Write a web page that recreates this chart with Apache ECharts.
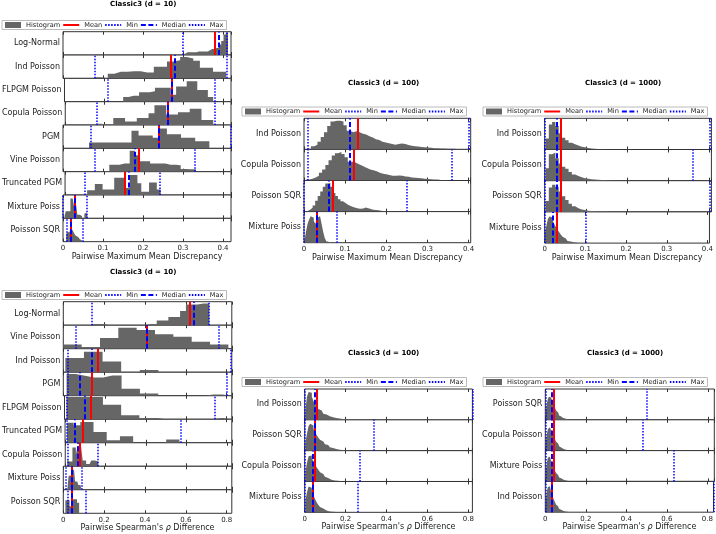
<!DOCTYPE html>
<html>
<head>
<meta charset="utf-8">
<title>Classic3 histograms</title>
<script src="https://cdn.jsdelivr.net/npm/echarts@6.0.0/dist/echarts.min.js"></script>
<style>
  html, body { margin: 0; padding: 0; background: #fff; }
  #chart { width: 716px; height: 534px; }
</style>
</head>
<body>
<div id="chart"></div>
<script>
// ---------- data ----------
// Pairwise MMD, d = 10
var mmd10Labels = ['Log-Normal', 'Ind Poisson', 'FLPGM Poisson', 'Copula Poisson', 'PGM', 'Vine Poisson', 'Truncated PGM', 'Mixture Poiss', 'Poisson SQR'];
var mmd10Min    = [0.300, 0.079, 0.108, 0.077, 0.065, 0.078, 0.046, 0.004, 0.008];
var mmd10Max    = [0.413, 0.408, 0.375, 0.375, 0.418, 0.333, 0.242, 0.063, 0.048];
var mmd10Mean   = [0.376, 0.272, 0.267, 0.256, 0.237, 0.193, 0.154, 0.032, 0.023];
var mmd10Median = [0.390, 0.281, 0.268, 0.259, 0.240, 0.183, 0.162, 0.027, 0.022];
var mmd10BinLo  = [0.300, 0.079, 0.108, 0.077, 0.065, 0.0775, 0.046, 0.004, 0.008];
var mmd10BinW   = [0.005625, 0.01645, 0.01335, 0.0149, 0.0177, 0.01275, 0.0098, 0.0029, 0.002];
var mmd10Counts = [
  [0.06,0.12,0.12,0.12,0.12,0.12,0.15,0.15,0.15,0.15,0.15,0.2,0.26,0.26,0.3,0.3,0.45,0.6,0.88,0.97],
  [0.05,0,0.2,0.28,0.28,0.3,0.3,0.25,0.25,0.5,0.5,0.72,0.78,0.92,0.85,0.75,0.45,0.45,0.28,0.28],
  [0,0,0,0.2,0.25,0.25,0.4,0.4,0.45,0.6,0.6,0.6,0.3,0.65,0.65,0.88,0.88,0.5,0.5,0.2],
  [0.05,0,0,0.3,0.3,0.15,0.15,0.3,0.3,0.5,0.85,0.85,0.45,0.45,0.55,0.55,0.7,0.7,0.22,0.22],
  [0.25,0.25,0.25,0.25,0.25,0.25,0.75,0.55,0.55,0.45,0.85,0.6,0.6,0.45,0.45,0.3,0.3,0,0,0.04],
  [0.02,0.02,0.02,0.3,0.3,0.35,0.35,0.9,0.7,0.45,0.45,0.35,0.35,0.35,0.3,0.3,0.28,0.12,0.1,0.1],
  [0,0.2,0.2,0.47,0.47,0.24,0.24,0.24,0.74,0.74,0.74,0.3,0.86,0.86,0.5,0.14,0.14,0.54,0.54,0.24],
  [0.1,0.3,0.3,0.3,0.3,0.85,0.85,0.85,0.55,0.55,0.55,0.15,0.15,0.15,0.1,0,0,0.2,0.25,0.25],
  [0.3,0.4,0.4,0.4,0.45,0.5,0.5,0.5,0.5,0.5,0.35,0.3,0.25,0.2,0.2,0.2,0.15,0.1,0.05,0.05]
];

// Pairwise MMD, d = 100
var mmd100Labels = ['Ind Poisson', 'Copula Poisson', 'Poisson SQR', 'Mixture Poiss'];
var mmd100Min    = [0.009, 0.005, 0.0025, 0.001];
var mmd100Max    = [0.404, 0.359, 0.248, 0.077];
var mmd100Mean   = [0.125, 0.124, 0.069, 0.032];
var mmd100Median = [0.109, 0.109, 0.063, 0.031];
var mmd100BinLo  = [0.009, 0.005, 0.0025, 0.001];
var mmd100BinW   = [0.0079, 0.0078, 0.00615, 0.0038];
var mmd100Counts = [
  [0.02,0.1,0.15,0.25,0.4,0.55,0.75,0.9,0.92,0.92,0.9,0.78,0.6,0.55,0.58,0.55,0.5,0.48,0.42,0.38,0.33,0.3,0.25,0.22,0.2,0.17,0.15,0.17,0.19,0.17,0.14,0.12,0.1,0.09,0.08,0.07,0.06,0.05,0.04,0.04,0.03,0.03,0.02,0.02,0.02,0.01,0.01,0.01,0.01,0.01],
  [0.03,0.06,0.1,0.15,0.25,0.35,0.5,0.65,0.8,0.88,0.92,0.85,0.75,0.6,0.6,0.55,0.5,0.45,0.4,0.35,0.33,0.3,0.25,0.22,0.2,0.18,0.15,0.15,0.16,0.15,0.13,0.12,0.1,0.09,0.08,0.07,0.06,0.05,0.04,0.03,0.03,0.02,0.02,0.01,0.01],
  [0.02,0.06,0.12,0.2,0.35,0.5,0.65,0.8,0.9,0.92,0.8,0.6,0.5,0.4,0.33,0.28,0.22,0.18,0.15,0.12,0.1,0.09,0.1,0.13,0.11,0.08,0.06,0.05,0.04,0.03,0.02,0.02,0.01,0.01,0.01,0,0,0,0,0.01],
  [0.05,0.35,0.6,0.75,0.85,0.8,0.7,0.6,0.8,0.85,0.8,0.6,0.35,0.15,0.05,0.02,0.01,0,0,0.01]
];

// Pairwise MMD, d = 1000
var mmd1000Labels = ['Ind Poisson', 'Copula Poisson', 'Poisson SQR', 'Mixture Poiss'];
var mmd1000Min    = [0.0016, 0.0016, 0.0016, 0.0005];
var mmd1000Max    = [0.395, 0.361, 0.403, 0.104];
var mmd1000Mean   = [0.043, 0.043, 0.038, 0.025];
var mmd1000Median = [0.031, 0.031, 0.029, 0.021];
var mmd1000BinLo  = [0.002, 0.002, 0.002, 0.0];
var mmd1000BinW   = [0.008, 0.008, 0.008, 0.004];
var mmd1000Counts = [
  [0.35,0.8,0.88,0.75,0.52,0.38,0.3,0.22,0.17,0.13,0.09,0.07,0.05,0.035,0.025,0.02,0.015,0.012,0.01,0.01,0.008,0.008,0.006,0.006,0.005,0.005,0.004,0.004,0.003,0.003],
  [0.4,0.85,0.9,0.72,0.55,0.45,0.38,0.28,0.2,0.15,0.11,0.08,0.06,0.05,0.04,0.03,0.025,0.02,0.015,0.012,0.01,0.008,0.006,0.005,0.004,0.003],
  [0.35,0.78,0.87,0.8,0.65,0.5,0.38,0.26,0.18,0.12,0.08,0.06,0.04,0.03,0.02,0.015,0.012,0.01,0.008,0.006,0.005,0.004,0.003],
  [0.3,0.55,0.78,0.85,0.82,0.72,0.6,0.5,0.42,0.34,0.27,0.2,0.15,0.1,0.07,0.05,0.035,0.025,0.015,0.01,0.008,0.005]
];

// Pairwise Spearman's rho difference, d = 10
var sp10Labels = ['Log-Normal', 'Vine Poisson', 'Ind Poisson', 'PGM', 'FLPGM Poisson', 'Truncated PGM', 'Copula Poisson', 'Mixture Poiss', 'Poisson SQR'];
var sp10Min    = [0.142, 0.057, 0.016, 0.016, 0.010, 0.010, 0.010, 0.010, 0.016];
var sp10Max    = [0.715, 0.760, 0.823, 0.797, 0.738, 0.567, 0.163, 0.090, 0.109];
var sp10Mean   = [0.616, 0.410, 0.175, 0.139, 0.134, 0.0865, 0.073, 0.044, 0.041];
var sp10Median = [0.642, 0.413, 0.144, 0.078, 0.098, 0.049, 0.062, 0.0375, 0.0375];
var sp10BinLo  = [0.142, 0.0, 0.010, 0.016, 0.010, 0.010, 0.010, 0.010, 0.010];
var sp10BinW   = [0.02865, 0.0898, 0.0911, 0.0449, 0.0449, 0.0327, 0.0085, 0.0053, 0.0052];
var sp10Counts = [
  [0.05,0.05,0,0,0,0,0,0,0,0.05,0.05,0.2,0.2,0.35,0.35,0.6,0.88,0.88,0.92,0.92],
  [0.18,0.07,0.46,0.89,0.8,0.62,0.51,0.3,0.18],
  [0.6,0.87,0.46,0,0.1,0,0,0,0.03],
  [0.93,0.85,0.78,0.78,0.86,0.86,0.3,0.3,0.1,0.1,0,0,0,0,0,0.05,0.05,0],
  [0.95,0.95,0.95,0.95,0.62,0.62,0.17,0.17,0.05,0.05,0,0,0,0,0,0,0.05,0.05],
  [0.85,0.75,0.88,0.88,0.46,0.46,0.11,0.11,0.28,0.28,0,0,0,0,0,0.14,0.14],
  [0.3,0.2,0.2,0.8,0.8,0.5,0.85,0.85,0.85,0.25,0.25,0.1,0.1,0.1,0.25,0.25,0.25,0.2],
  [0.05,0.05,0.05,0.6,0.6,0.6,0.85,0.85,0.85,0.35,0.35,0.35,0.2,0.2,0.2],
  [0.55,0.55,0.55,0.55,0.3,0.3,0.3,0.6,0.6,0.6,0.6,0.45,0.45,0,0,0,0,0]
];

// Pairwise Spearman's rho difference, d = 100
var sp100Labels = ['Ind Poisson', 'Poisson SQR', 'Copula Poisson', 'Mixture Poiss'];
var sp100Min    = [0.003, 0.003, 0.003, 0.003];
var sp100Max    = [0.816, 0.336, 0.267, 0.257];
var sp100Mean   = [0.062, 0.054, 0.049, 0.039];
var sp100Median = [0.047, 0.047, 0.042, 0.036];
var sp100BinLo  = [0.003, 0.003, 0.003, 0.003];
var sp100BinW   = [0.008, 0.008, 0.008, 0.008];
var sp100Counts = [
  [0.3,0.75,0.9,0.88,0.75,0.6,0.5,0.42,0.35,0.3,0.25,0.2,0.17,0.14,0.12,0.1,0.08,0.07,0.06,0.05,0.04,0.035,0.03,0.025,0.02,0.02,0.015,0.015,0.01,0.01,0.008,0.008,0.006,0.005,0.005],
  [0.25,0.55,0.8,0.87,0.82,0.7,0.6,0.5,0.42,0.35,0.3,0.25,0.21,0.18,0.14,0.11,0.09,0.07,0.05,0.04,0.03,0.025,0.02,0.015,0.01,0.01,0.008,0.005],
  [0.3,0.6,0.82,0.84,0.75,0.65,0.55,0.45,0.38,0.3,0.24,0.19,0.15,0.11,0.08,0.06,0.045,0.035,0.025,0.02,0.015,0.01,0.01,0.005],
  [0.35,0.65,0.84,0.8,0.68,0.55,0.42,0.32,0.24,0.17,0.12,0.08,0.06,0.04,0.03,0.02,0.015,0.01,0.008,0.005]
];

// Pairwise Spearman's rho difference, d = 1000
var sp1000Labels = ['Poisson SQR', 'Copula Poisson', 'Mixture Poiss', 'Ind Poisson'];
var sp1000Min    = [0.003, 0.003, 0.003, 0.003];
var sp1000Max    = [0.500, 0.480, 0.633, 0.828];
var sp1000Mean   = [0.039, 0.038, 0.036, 0.034];
var sp1000Median = [0.034, 0.034, 0.031, 0.028];
var sp1000BinLo  = [0.003, 0.003, 0.003, 0.003];
var sp1000BinW   = [0.005, 0.005, 0.005, 0.005];
var sp1000Counts = [
  [0.3,0.55,0.68,0.75,0.72,0.68,0.62,0.55,0.45,0.38,0.3,0.24,0.18,0.14,0.11,0.08,0.06,0.05,0.04,0.03,0.02,0.015,0.01,0.01],
  [0.3,0.55,0.7,0.76,0.73,0.66,0.6,0.52,0.44,0.36,0.29,0.23,0.18,0.14,0.1,0.08,0.06,0.045,0.035,0.025,0.02,0.015,0.01,0.01],
  [0.35,0.62,0.78,0.8,0.75,0.68,0.6,0.5,0.42,0.34,0.27,0.21,0.17,0.13,0.1,0.08,0.06,0.045,0.035,0.025,0.02,0.015,0.01,0.01],
  [0.4,0.7,0.82,0.84,0.78,0.68,0.58,0.48,0.4,0.32,0.25,0.19,0.15,0.11,0.08,0.06,0.045,0.035,0.025,0.02,0.015,0.01,0.01,0.005]
];

// ---------- layout ----------
var FONT = 'DejaVu Sans';
var MMD_NAME = 'Pairwise Maximum Mean Discrepancy';
var SP_NAME = "Pairwise Spearman's {i|ρ} Difference";

var panels = [
  { title: 'Classic3 (d = 10)', titleLeft: 110, titleTop: 1, legendLeft: 2, legendTop: 20.5,
    left: 63, width: 168, top: 31.7, rowH: 23.33, xmax: 0.42, interval: 0.1, axisName: MMD_NAME, nameGap: 11,
    d: { labels: mmd10Labels, min: mmd10Min, max: mmd10Max, mean: mmd10Mean, median: mmd10Median, lo: mmd10BinLo, w: mmd10BinW, counts: mmd10Counts } },
  { title: 'Classic3 (d = 100)', titleLeft: 348, titleTop: 80, legendLeft: 242, legendTop: 107,
    left: 304, width: 166.7, top: 118.3, rowH: 31.1, xmax: 0.405, interval: 0.1, axisName: MMD_NAME, nameGap: 11,
    d: { labels: mmd100Labels, min: mmd100Min, max: mmd100Max, mean: mmd100Mean, median: mmd100Median, lo: mmd100BinLo, w: mmd100BinW, counts: mmd100Counts } },
  { title: 'Classic3 (d = 1000)', titleLeft: 585, titleTop: 80, legendLeft: 483, legendTop: 107,
    left: 544.7, width: 166.7, top: 118.3, rowH: 31.2, xmax: 0.405, interval: 0.1, axisName: MMD_NAME, nameGap: 11,
    d: { labels: mmd1000Labels, min: mmd1000Min, max: mmd1000Max, mean: mmd1000Mean, median: mmd1000Median, lo: mmd1000BinLo, w: mmd1000BinW, counts: mmd1000Counts } },
  { title: 'Classic3 (d = 10)', titleLeft: 110, titleTop: 269, legendLeft: 2, legendTop: 290.5,
    left: 63.3, width: 168.5, top: 301.7, rowH: 23.51, xmax: 0.825, interval: 0.2, axisName: SP_NAME, nameGap: 10,
    d: { labels: sp10Labels, min: sp10Min, max: sp10Max, mean: sp10Mean, median: sp10Median, lo: sp10BinLo, w: sp10BinW, counts: sp10Counts } },
  { title: 'Classic3 (d = 100)', titleLeft: 348, titleTop: 350, legendLeft: 242, legendTop: 377.5,
    left: 304.7, width: 167.7, top: 389, rowH: 30.83, xmax: 0.82, interval: 0.2, axisName: SP_NAME, nameGap: 11,
    d: { labels: sp100Labels, min: sp100Min, max: sp100Max, mean: sp100Mean, median: sp100Median, lo: sp100BinLo, w: sp100BinW, counts: sp100Counts } },
  { title: 'Classic3 (d = 1000)', titleLeft: 587, titleTop: 350, legendLeft: 483, legendTop: 377.5,
    left: 545.3, width: 169, top: 389, rowH: 30.8, xmax: 0.83, interval: 0.2, axisName: SP_NAME, nameGap: 11,
    d: { labels: sp1000Labels, min: sp1000Min, max: sp1000Max, mean: sp1000Mean, median: sp1000Median, lo: sp1000BinLo, w: sp1000BinW, counts: sp1000Counts } }
];

var statStyle = {
  Mean:   { color: '#ff0000', width: 2,   type: 'solid' },
  Min:    { color: '#0000ff', width: 1.5, type: [1.5, 1.5] },
  Median: { color: '#0000ff', width: 2,   type: [5, 2.5] },
  Max:    { color: '#0000ff', width: 1.5, type: [1.5, 1.5] }
};
var HIST_COLOR = '#666666';

// step outline of a histogram: left edge of each bin, closed at the last edge
function stepData(lo, w, counts) {
  var pts = [];
  for (var i = 0; i < counts.length; i++) pts.push([lo + i * w, counts[i]]);
  pts.push([lo + counts.length * w, 0]);
  return pts;
}

// line-only legend entry (hide the marker ECharts puts on line icons)
function lineItem(name) {
  return { name: name, itemStyle: { opacity: 0 } };
}

var grids = [], xAxes = [], yAxes = [], series = [], titles = [], legends = [];

panels.forEach(function (p) {
  titles.push({ text: p.title, left: p.titleLeft, top: p.titleTop, padding: 0,
    textStyle: { fontSize: 7, fontWeight: 'bold', color: '#000', fontFamily: FONT } });

  legends.push({
    left: p.legendLeft, top: p.legendTop, orient: 'horizontal', selectedMode: false,
    itemWidth: 16, itemHeight: 6, itemGap: 2, padding: [1, 3],
    borderColor: '#bbb', borderWidth: 1, backgroundColor: '#fff',
    textStyle: { fontSize: 6.6, color: '#222', fontFamily: FONT },
    data: [{ name: 'Histogram', icon: 'rect' }, lineItem('Mean'), lineItem('Min'), lineItem('Median'), lineItem('Max')]
  });

  var n = p.d.labels.length;
  for (var r = 0; r < n; r++) {
    var gi = grids.length;
    var last = r === n - 1;
    grids.push({ left: p.left, top: p.top + r * p.rowH, width: p.width, height: p.rowH,
      show: true, borderColor: '#333', borderWidth: 1, backgroundColor: '#fff' });

    xAxes.push({
      type: 'value', gridIndex: gi, min: 0, max: p.xmax, interval: p.interval, position: 'bottom',
      axisLine: { show: false }, splitLine: { show: false },
      axisTick: { show: true, inside: true, length: 3, lineStyle: { color: '#333' } },
      axisLabel: { show: last, margin: 3, fontSize: 7, color: '#222', fontFamily: FONT, showMaxLabel: false },
      name: last ? p.axisName : '', nameLocation: 'middle', nameGap: p.nameGap,
      nameTextStyle: { fontSize: 8, color: '#222', fontFamily: FONT,
        rich: { i: { fontSize: 8, fontStyle: 'italic', color: '#222', fontFamily: FONT } } }
    });
    xAxes.push({
      type: 'value', gridIndex: gi, min: 0, max: p.xmax, interval: p.interval, position: 'top',
      axisLine: { show: false }, splitLine: { show: false }, axisLabel: { show: false },
      axisTick: { show: true, inside: true, length: 3, lineStyle: { color: '#333' } }
    });
    yAxes.push({
      type: 'value', gridIndex: gi, min: 0, max: 1,
      axisLine: { show: false }, axisTick: { show: false }, axisLabel: { show: false }, splitLine: { show: false },
      name: p.d.labels[r], nameLocation: 'middle', nameRotate: 0, nameGap: 3,
      nameTextStyle: { fontSize: 8, color: '#222', fontFamily: FONT, align: 'right', verticalAlign: 'middle' }
    });

    series.push({
      type: 'line', name: 'Histogram', xAxisIndex: 2 * gi, yAxisIndex: gi,
      data: stepData(p.d.lo[r], p.d.w[r], p.d.counts[r]),
      step: 'end', symbol: 'none', silent: true, clip: true,
      color: HIST_COLOR, itemStyle: { color: HIST_COLOR },
      lineStyle: { width: 0 }, areaStyle: { color: HIST_COLOR, opacity: 1 },
      markLine: {
        silent: true, symbol: ['none', 'none'], label: { show: false }, animation: false,
        data: [
          { xAxis: p.d.mean[r], lineStyle: statStyle.Mean },
          { xAxis: p.d.min[r], lineStyle: statStyle.Min },
          { xAxis: p.d.median[r], lineStyle: statStyle.Median },
          { xAxis: p.d.max[r], lineStyle: statStyle.Max }
        ]
      }
    });
  }
});

// legend-only series for the four statistic lines
['Mean', 'Min', 'Median', 'Max'].forEach(function (k) {
  series.push({ type: 'line', name: k, xAxisIndex: 0, yAxisIndex: 0, data: [], symbol: 'none',
    color: statStyle[k].color, lineStyle: statStyle[k] });
});

var chart = echarts.init(document.getElementById('chart'), null, { renderer: 'canvas' });
chart.setOption({
  animation: false,
  backgroundColor: '#fff',
  title: titles,
  legend: legends,
  grid: grids,
  xAxis: xAxes,
  yAxis: yAxes,
  series: series
});
</script>
</body>
</html>
